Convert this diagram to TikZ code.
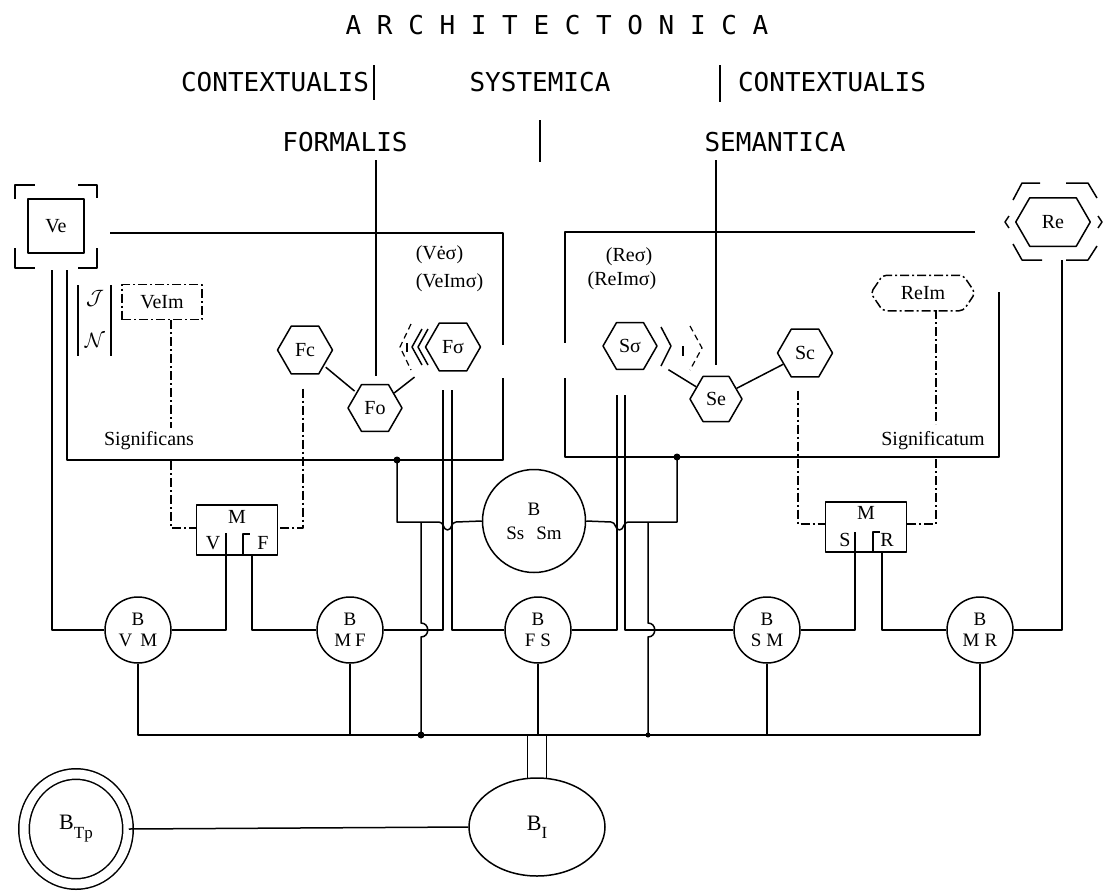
\documentclass[tikz,border=0pt]{standalone}
\usepackage{fontspec}
\setmainfont{Liberation Serif}
\newfontfamily\headfont{DejaVu Sans Mono}
\usetikzlibrary{shapes.geometric}
\begin{document}
\begin{tikzpicture}[x=1pt,y=-1pt,line width=1.5pt,line join=round,
  lab/.style={font=\fontsize{20}{22}\selectfont, inner sep=1pt},
  hd/.style={font=\headfont\fontsize{26}{28}\selectfont, inner sep=0pt},
  hexa/.style={draw, regular polygon, regular polygon sides=6, minimum size=55pt, inner sep=0pt, line width=1.5pt, font=\fontsize{20}{22}\selectfont},
  circ/.style={draw, circle, minimum size=66pt, inner sep=0pt, align=center, font=\fontsize{19}{20}\selectfont},
  mbox/.style={draw, minimum width=81pt, minimum height=50pt, inner sep=0pt},
  dd/.style={dash pattern=on 9pt off 3pt on 2pt off 3pt},
  jdot/.style={circle, fill, inner sep=0pt, minimum size=7pt}]
\fill[white] (0,0) rectangle (1104,895);
\useasboundingbox (0,0) rectangle (1104,895);

% headings
\node[hd] (arch) at (557,25) {A R C H I T E C T O N I C A};
\node[hd] (ctx1) at (275,82) {CONTEXTUALIS};
\node[hd] (sys) at (540,82) {SYSTEMICA};
\node[hd] (ctx2) at (832,82) {CONTEXTUALIS};
\node[hd] (form) at (345,142) {FORMALIS};
\node[hd] (sem) at (775,142) {SEMANTICA};
\draw (374,65) -- (374,100);
\draw (720,65) -- (720,102);
\draw (540,120) -- (540,162);

% Ve
\node[draw, minimum width=56pt, minimum height=54pt, lab] (Ve) at (56,226) {Ve};
\draw (15,199) -- (15,185) -- (35,185);
\draw (78,185) -- (97,185) -- (97,198);
\draw (15,248) -- (15,268) -- (35,268);
\draw (78,268) -- (97,268) -- (97,248);

% Re
\node[lab, minimum width=73pt, minimum height=47pt, inner sep=0pt] (Re) at (1053,222) {Re};
\draw (Re.west) -- ([xshift=14pt]Re.north west) -- ([xshift=-14pt]Re.north east) -- (Re.east) -- ([xshift=-14pt]Re.south east) -- ([xshift=14pt]Re.south west) -- cycle;
\draw (1013,200) -- (1022,183) -- (1040,183);
\draw (1066,183) -- (1088,183) -- (1097,198);
\draw (1013,244) -- (1022,260) -- (1042,260);
\draw (1066,260) -- (1088,260) -- (1097,246);
\draw (1009,216) -- (1005,222) -- (1009,228);
\draw (1098,216) -- (1102,222) -- (1098,228);

% boxes
\draw (110,233) -- (503,233) -- (503,345);
\draw (503,378) -- (503,460) -- (67,460) -- (67,270);
\draw (975,232) -- (565,232) -- (565,343);
\draw (565,378) -- (565,457) -- (999,457) -- (999,292);

% FORMALIS / SEMANTICA verticals
\draw (376,160) -- (376,376);
\draw (716,160) -- (716,365);

% J N
\draw (78,285) -- (78,356);
\draw (111,285) -- (111,356);
\node[lab] (J) at (95,298) {$\mathcal{J}$};
\node[lab] (N) at (95,340) {$\mathcal{N}$};

\node[draw, dd, minimum width=80pt, minimum height=35pt, lab] (VeIm) at (162,302) {VeIm};
\node[lab, minimum width=103pt, minimum height=34pt, inner sep=0pt] (ReIm) at (923,293) {ReIm};
\draw[dd, rounded corners=4pt] (ReIm.west) -- ([xshift=12pt]ReIm.north west) -- ([xshift=-12pt]ReIm.north east) -- (ReIm.east) -- ([xshift=-12pt]ReIm.south east) -- ([xshift=12pt]ReIm.south west) -- cycle;

\node[lab] (signif) at (149,441) {Significans};
\node[lab] (signat) at (933,441) {Significatum};
\node[lab, anchor=west] (vesig) at (414,255) {(Vėσ)};
\node[lab, anchor=west] (veimsig) at (414,283) {(VeImσ)};
\node[lab, anchor=east] (resig) at (654,257) {(Reσ)};
\node[lab, anchor=east] (reimsig) at (658,281) {(ReImσ)};

% hexagons
\node[hexa] (Fc) at (305,350) {Fc};
\node[hexa, minimum size=54pt] (Fo) at (375,408) {Fo};
\node[hexa] (Fs) at (453,347) {Fσ};
\node[hexa, minimum size=54pt] (So) at (630,346) {Sσ};
\node[hexa, minimum size=52pt] (Se) at (716,399) {Se};
\node[hexa] (Sc) at (805,353) {Sc};
\draw[shorten <=2pt, shorten >=2pt] (Fc) -- (Fo);
\draw[shorten >=24pt] (Fo) -- (Fs);
\draw[shorten <=21pt] (So) -- (Se);
\draw (Se) -- (Sc);

% brackets near Fsigma and Ssigma
\draw (428,329) -- (418,347) -- (428,365);
\draw (422,329) -- (412,347) -- (422,365);
\draw[line width=1.2pt, dash pattern=on 6pt off 4pt] (411,324) -- (400,347) -- (411,370);
\draw[line width=1.2pt] (407,343) -- (407,352);
\draw (661,327) -- (671,346) -- (661,366);
\draw[line width=1.2pt, dash pattern=on 6pt off 4pt] (690,326) -- (702,348) -- (690,370);
\draw[line width=1.2pt] (683,346) -- (683,356);

% M boxes
\node[mbox] (MVF) at (237,530) {};
\node[mbox] (MSR) at (866,527) {};
\node[lab] (mvfM) at (237,517) {M};
\node[lab] (mvfV) at (213,543) {V};
\node[lab] (mvfF) at (263,543) {F};
\node[lab] (msrM) at (866,513) {M};
\node[lab] (msrS) at (845,540) {S};
\node[lab] (msrR) at (887,540) {R};

% dashed connectors
\draw[dd] (171,320) -- (171,428);
\draw[dd] (171,461) -- (171,528) -- (MVF.west |- 0,528);
\draw[dd, shorten <=14pt] (Fc.south -| 303,0) -- (303,528) -- (MVF.east |- 0,528);
\draw[dd, shorten <=13pt] (Sc.south -| 798,0) -- (798,524) -- (MSR.west |- 0,524);
\draw[dd] (936,310) -- (936,424);
\draw[dd] (936,459) -- (936,524) -- (MSR.east |- 0,524);

% circles
\node[circ] (BVM) at (138,630) {B\\[1pt]V\hspace{8pt}M};
\node[circ] (BMF) at (350,630) {B\\[1pt]M\hspace{4pt}F};
\node[circ] (BFS) at (538,630) {B\\[1pt]F\hspace{5pt}S};
\node[circ] (BSM) at (767,630) {B\\[1pt]S\hspace{5pt}M};
\node[circ] (BMR) at (980,630) {B\\[1pt]M\hspace{5pt}R};
\node[circ, minimum size=103pt] (BSS) at (534,521) {B\\[4pt]Ss\hspace{12pt}Sm};

% left links
\draw (52,270) -- (52,630) -- (BVM.west);
\draw (BVM.east) -- (226,630) -- (226,533);
\draw (243,555) -- (243,534) -- (250,534);
\draw (MVF.south -| 252,0) -- (252,630) -- (BMF.west);
\draw (BMF.east) -- (443,630) -- (443,390);
\draw (BFS.west) -- (452,630) -- (452,390);

% right links
\draw (BFS.east) -- (617,630) -- (617,395);
\draw (BSM.west) -- (625,630) -- (625,395);
\draw (BSM.east) -- (855,630) -- (855,532);
\draw (873,552) -- (873,532) -- (880,532);
\draw (MSR.south -| 882,0) -- (882,630) -- (BMR.west);
\draw (BMR.east) -- (1062,630) -- (1062,260);

% centre links
\node[jdot] (d1) at (397,460) {};
\node[jdot] (d2) at (677,457) {};
\draw (d1.center) -- (397,522) -- (439,522) .. controls (444,522) and (443,530) .. (447.5,530) .. controls (452,530) and (451,522) .. (456,522) -- (BSS.west);
\draw (BSS.east) -- (611,522) .. controls (616,522) and (615,530) .. (619.5,530) .. controls (624,530) and (623,522) .. (628,522) -- (677,522) -- (d2.center);
\draw (421,522) -- (421,623) .. controls (430,623) and (430,637) .. (421,637) -- (421,735);
\draw (648,522) -- (648,623) .. controls (657,623) and (657,637) .. (648,637) -- (648,735);

% bus
\draw (BVM.south) -- (138,735) -- (980,735) -- (BMR.south);
\draw (BMF.south) -- (350,735);
\draw (BFS.south) -- (538,735);
\draw (BSM.south) -- (767,735);
\node[jdot] (d3) at (421,735) {};
\node[jdot, minimum size=5pt] (d4) at (648,735) {};

% bottom
\node[draw, ellipse, minimum width=136pt, minimum height=98pt, font=\fontsize{22}{22}\selectfont] (BI) at (537,827) {B\raisebox{-8pt}{\fontsize{17}{17}\selectfont I}};
\node[draw, ellipse, double, double distance=9pt, minimum width=104pt, minimum height=110pt, font=\fontsize{22}{22}\selectfont] (BTp) at (76,829) {B\raisebox{-9pt}{\fontsize{17}{17}\selectfont Tp}};
\draw (BI.101) -- (BI.101 |- 0,735);
\draw (BI.79) -- (BI.79 |- 0,735);
\draw (BTp.east) -- (BI.west);
\end{tikzpicture}
\end{document}
